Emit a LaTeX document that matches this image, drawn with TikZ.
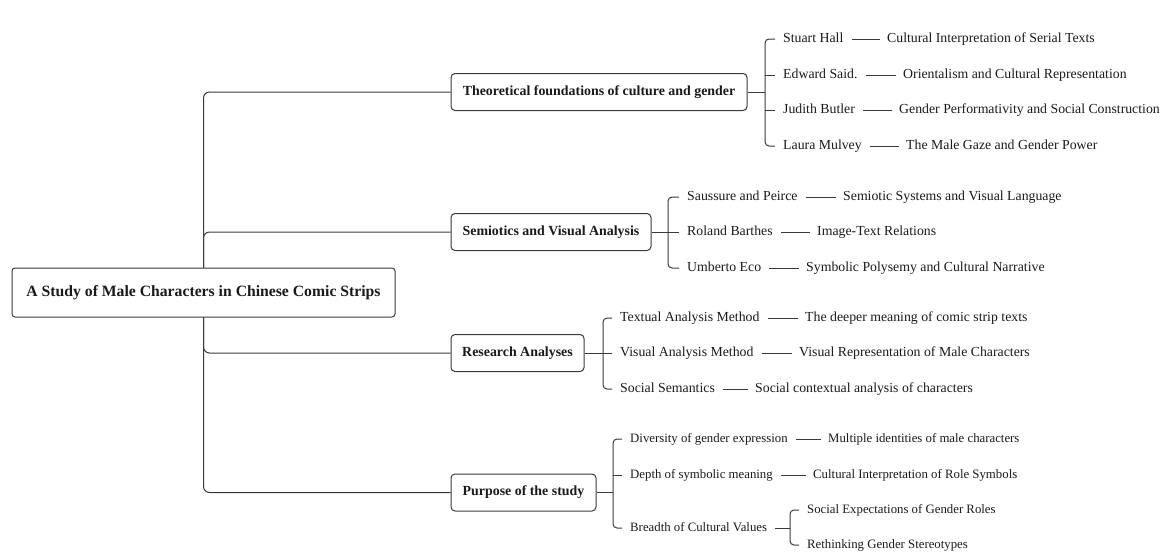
\documentclass[tikz,border=0pt]{standalone}
\usepackage{fontspec}
\setmainfont{Liberation Serif}
\usetikzlibrary{backgrounds}
\definecolor{linec}{HTML}{3A3A3A}
\definecolor{txt}{HTML}{1A1A1A}
\begin{document}
\begin{tikzpicture}[x=1pt,y=-1pt,
  conn/.style={draw=linec, line width=1pt},
  rootbox/.style={draw=linec, line width=1pt, fill=white, rounded corners=3pt,
    minimum width=383pt, minimum height=49pt, inner sep=0pt,
    font=\fontsize{15.7}{18}\selectfont\bfseries, text=txt},
  branchbox/.style={draw=linec, line width=1pt, fill=white, rounded corners=4pt,
    minimum height=37pt, inner sep=0pt,
    font=\fontsize{13.9}{16}\selectfont\bfseries, text=txt},
  leaf/.style={inner sep=0pt, anchor=west, text height=9.5pt, text depth=3pt,
    font=\fontsize{13.8}{16}\selectfont, text=txt},
  smallleaf/.style={leaf, font=\fontsize{12.8}{15}\selectfont},
  link/.style={conn, shorten <=8pt, shorten >=7pt},
  brk/.style={conn, rounded corners=4pt}
]
\useasboundingbox (0,0) rectangle (1168,554);

% root and branches
\node[rootbox] (root) at (203.5,292.5) {A Study of Male Characters in Chinese Comic Strips};
\node[branchbox, minimum width=296pt] (b1) at (599,92) {Theoretical foundations of culture and gender};
\node[branchbox, minimum width=200pt] (b2) at (551,232) {Semiotics and Visual Analysis};
\node[branchbox, minimum width=133pt] (b3) at (517.5,353) {Research Analyses};
\node[branchbox, minimum width=145pt] (b4) at (523.5,492.5) {Purpose of the study};

\begin{scope}[on background layer]
  \draw[conn, rounded corners=6pt] (root.center) |- (b1.west);
  \draw[conn, rounded corners=6pt] (root.center) |- (b2.west);
  \draw[conn, rounded corners=6pt] (root.center) |- (b3.west);
  \draw[conn, rounded corners=6pt] (root.center) |- (b4.west);
\end{scope}

% ---- branch 1
\coordinate (j1) at (765,92);
\node[leaf] (l11) at (783,39) {Stuart Hall};
\node[leaf] (l12) at (783,75) {Edward Said.};
\node[leaf] (l13) at (783,110) {Judith Butler};
\node[leaf] (l14) at (783,146) {Laura Mulvey};
\node[leaf] (r11) at (887,39) {Cultural Interpretation of Serial Texts};
\node[leaf] (r12) at (903,75) {Orientalism and Cultural Representation};
\node[leaf] (r13) at (899,110) {Gender Performativity and Social Construction};
\node[leaf] (r14) at (906,146) {The Male Gaze and Gender Power};
\draw[conn] (b1.east) -- (j1);
\draw[brk] ([xshift=-8pt]l11.west) -| (j1) |- ([xshift=-8pt]l14.west);
\draw[conn] (j1 |- l12) -- ([xshift=-8pt]l12.west);
\draw[conn] (j1 |- l13) -- ([xshift=-8pt]l13.west);
\draw[link] (l11) -- (r11);
\draw[link] (l12) -- (r12);
\draw[link] (l13) -- (r13);
\draw[link] (l14) -- (r14);

% ---- branch 2
\coordinate (j2) at (668,232);
\node[leaf] (l21) at (687,197) {Saussure and Peirce};
\node[leaf] (l22) at (687,232) {Roland Barthes};
\node[leaf] (l23) at (687,268) {Umberto Eco};
\node[leaf] (r21) at (843,197) {Semiotic Systems and Visual Language};
\node[leaf] (r22) at (817,232) {Image-Text Relations};
\node[leaf] (r23) at (806,268) {Symbolic Polysemy and Cultural Narrative};
\draw[conn] (b2.east) -- (j2);
\draw[brk] ([xshift=-8pt]l21.west) -| (j2) |- ([xshift=-8pt]l23.west);
\draw[conn] (j2) -- ([xshift=-8pt]l22.west);
\draw[link] (l21) -- (r21);
\draw[link] (l22) -- (r22);
\draw[link] (l23) -- (r23);

% ---- branch 3
\coordinate (j3) at (603,353);
\node[leaf] (l31) at (620,318) {Textual Analysis Method};
\node[leaf] (l32) at (620,353) {Visual Analysis Method};
\node[leaf] (l33) at (620,389) {Social Semantics};
\node[leaf] (r31) at (805,318) {The deeper meaning of comic strip texts};
\node[leaf] (r32) at (799,353) {Visual Representation of Male Characters};
\node[leaf] (r33) at (755,389) {Social contextual analysis of characters};
\draw[conn] (b3.east) -- (j3);
\draw[brk] ([xshift=-8pt]l31.west) -| (j3) |- ([xshift=-8pt]l33.west);
\draw[conn] (j3) -- ([xshift=-8pt]l32.west);
\draw[link] (l31) -- (r31);
\draw[link] (l32) -- (r32);
\draw[link] (l33) -- (r33);

% ---- branch 4
\coordinate (j4) at (613,492.5);
\node[smallleaf] (l41) at (630,439) {Diversity of gender expression};
\node[smallleaf] (l42) at (630,475) {Depth of symbolic meaning};
\node[smallleaf] (l43) at (630,528) {Breadth of Cultural Values};
\node[smallleaf] (r41) at (828,439) {Multiple identities of male characters};
\node[smallleaf] (r42) at (813,475) {Cultural Interpretation of Role Symbols};
\draw[conn] (b4.east) -- (j4);
\draw[brk] ([xshift=-8pt]l41.west) -| (j4) |- ([xshift=-8pt]l43.west);
\draw[conn] (j4 |- l42) -- ([xshift=-8pt]l42.west);
\draw[link] (l41) -- (r41);
\draw[link] (l42) -- (r42);

% sub-branch
\coordinate (j5) at (790,528);
\node[smallleaf] (s1) at (807,510) {Social Expectations of Gender Roles};
\node[smallleaf] (s2) at (807,545) {Rethinking Gender Stereotypes};
\draw[conn, shorten <=8pt] (l43.east) -- (j5);
\draw[brk] ([xshift=-8pt]s1.west) -| (j5) |- ([xshift=-8pt]s2.west);
\end{tikzpicture}
\end{document}
